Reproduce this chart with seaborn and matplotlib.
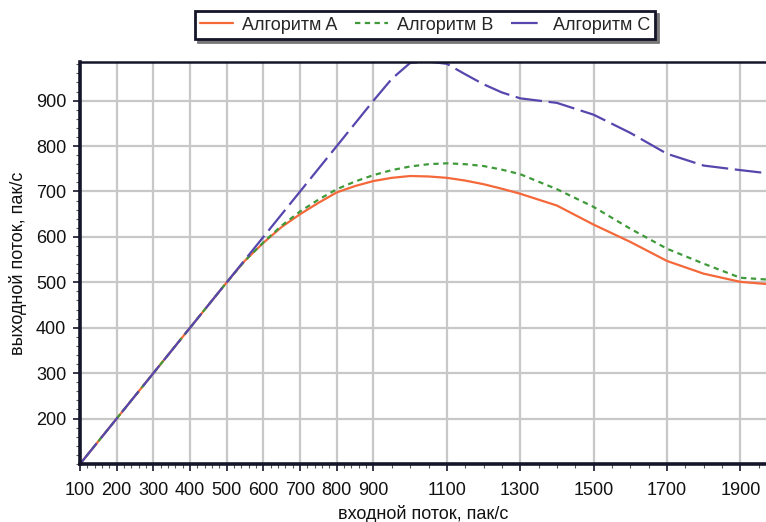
import numpy as np
import pandas as pd
import matplotlib
matplotlib.use("Agg")
import matplotlib.pyplot as plt
from matplotlib.ticker import FixedLocator
import seaborn as sns

# input flow, packets/s
x_vals = [100, 200, 300, 400, 500, 550, 600, 650, 700, 750, 800, 850, 900, 950,
          1000, 1050, 1100, 1150, 1200, 1250, 1300, 1400, 1500, 1600, 1700, 1800,
          1900, 1975]
algo_a = [100, 200, 300, 400, 500, 548, 587, 622, 650, 675, 698, 712, 723, 730,
          734, 733, 730, 724, 716, 706, 695, 669, 627, 589, 547, 519, 501, 496]
algo_b = [100, 200, 300, 400, 500, 548, 588, 625, 656, 682, 705, 722, 736, 747,
          755, 760, 762, 760, 756, 748, 738, 705, 666, 618, 574, 541, 510, 506]
algo_c = [100, 200, 300, 400, 500, 550, 600, 650, 700, 750, 800, 850, 900, 948,
          983, 986, 981, 958, 936, 918, 905, 895, 869, 829, 783, 757, 747, 740]

series_names = ["Алгоритм A", "Алгоритм B", "Алгоритм C"]
x_ticks = [100, 200, 300, 400, 500, 600, 700, 800, 900, 1100, 1300, 1500, 1700, 1900]
y_ticks = [200, 300, 400, 500, 600, 700, 800, 900]

df = pd.DataFrame({
    "x": x_vals * 3,
    "y": algo_a + algo_b + algo_c,
    "alg": [s for s in series_names for _ in x_vals],
})

sns.set_theme(style="white")
plt.rcParams["font.family"] = ["Liberation Sans", "DejaVu Sans"]

fig = plt.figure(figsize=(7.66, 5.22), dpi=100)
ax = fig.add_axes([80 / 766, 1 - 464 / 522, 1 - 80 / 766, (464 - 62) / 522])

palette = {"Алгоритм A": "#f4683a", "Алгоритм B": "#3f9a3a", "Алгоритм C": "#5547ad"}
dashes = {"Алгоритм A": "", "Алгоритм B": (2.4, 2.0), "Алгоритм C": (12, 3)}
sns.lineplot(data=df, x="x", y="y", hue="alg", style="alg", palette=palette,
             dashes=dashes, linewidth=1.6, ax=ax, legend=False)

ax.set_xlim(100, 1970)
ax.set_ylim(100, 985)
ax.xaxis.set_major_locator(FixedLocator(x_ticks))
ax.yaxis.set_major_locator(FixedLocator(y_ticks))
minor_x = list(range(100, 900, 20)) + list(range(900, 1971, 50))
ax.xaxis.set_minor_locator(FixedLocator(minor_x))
ax.yaxis.set_minor_locator(FixedLocator(list(range(100, 981, 20))))

ax.grid(True, which="major", color="#c8c8c8", linewidth=1.6)
ax.set_axisbelow(True)

for side in ["left", "bottom"]:
    ax.spines[side].set_color("#15152a")
    ax.spines[side].set_linewidth(2.6)
ax.spines["top"].set_color("#15152a")
ax.spines["top"].set_linewidth(1.8)
ax.spines["right"].set_visible(False)

ax.tick_params(which="major", direction="out", length=5, width=1.2, color="#15152a",
               labelsize=13, labelcolor="#111111")
ax.tick_params(axis="x", which="major", pad=8)
ax.tick_params(axis="y", which="major", pad=5)
ax.tick_params(which="minor", direction="out", length=3, width=0.8, color="#555555")
ax.tick_params(axis="x", which="both", bottom=True)
ax.tick_params(axis="y", which="both", left=True)

ax.set_xlabel("входной поток, пак/с", fontsize=13, color="#111111", labelpad=4)
ax.set_ylabel("выходной поток, пак/с", fontsize=13, color="#111111", labelpad=6)

handles = [plt.Line2D([], [], color=palette[n], linewidth=1.6,
                      linestyle=(0, dashes[n]) if dashes[n] else "-")
           for n in series_names]
leg = fig.legend(handles, series_names, loc="center", ncol=3,
                 bbox_to_anchor=(425 / 766, 1 - 25 / 522), frameon=True,
                 fancybox=False, shadow={"color": "#777777", "alpha": 1.0},
                 edgecolor="#15152a", fontsize=13, handlelength=1.8,
                 columnspacing=1.0, handletextpad=0.5, borderpad=0.3)
leg.get_frame().set_linewidth(2)

fig.savefig("out.png", dpi=100)
